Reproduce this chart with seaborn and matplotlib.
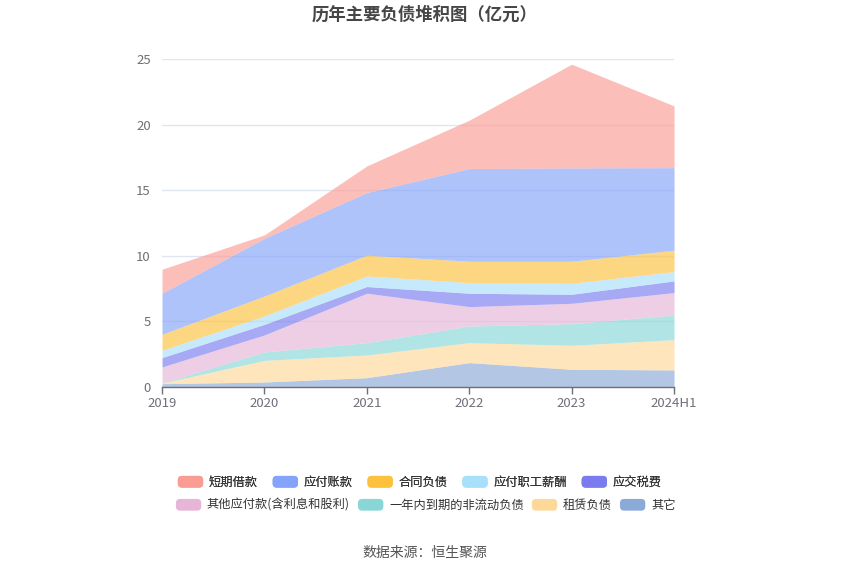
import numpy as np
import matplotlib
matplotlib.use('Agg')
import matplotlib.pyplot as plt
import matplotlib.patches as mpatches
from matplotlib.legend_handler import HandlerPatch
import seaborn as sns

# Data (亿元)
years = ['2019', '2020', '2021', '2022', '2023', '2024H1']
other = [0.25, 0.38, 0.71, 1.86, 1.35, 1.30]
lease = [0.05, 1.65, 1.73, 1.52, 1.83, 2.31]
noncurrent_1y = [0.02, 0.64, 0.94, 1.27, 1.65, 1.88]
other_payables = [1.21, 1.30, 3.77, 1.48, 1.55, 1.71]
taxes = [0.71, 0.81, 0.51, 1.02, 0.69, 0.89]
payroll = [0.56, 0.64, 0.81, 0.81, 0.84, 0.71]
contract = [1.22, 1.52, 1.58, 1.63, 1.68, 1.63]
payables = [3.13, 4.40, 4.78, 7.07, 7.12, 6.30]
short_loans = [1.83, 0.26, 2.03, 3.69, 7.91, 4.71]

# stacking order bottom -> top
series = [other, lease, noncurrent_1y, other_payables, taxes, payroll, contract, payables, short_loans]
names = ['其它', '租赁负债', '一年内到期的非流动负债', '其他应付款(含利息和股利)', '应交税费',
         '应付职工薪酬', '合同负债', '应付账款', '短期借款']
colors = ['#8aaad8', '#fed898', '#88d6d6', '#e6b5d8', '#7a7bef',
          '#a8dffa', '#fdc13e', '#84a3fa', '#fa9b94']

sns.set_theme(style='white')
plt.rcParams['font.family'] = ['Noto Sans CJK SC', 'DejaVu Sans']
plt.rcParams['axes.unicode_minus'] = False

fig = plt.figure(figsize=(8.5, 5.75), dpi=100)
ax = fig.add_axes([0.1906, 0.327, 0.6024, 0.570])

x = np.arange(len(years))
ax.stackplot(x, *series, colors=colors, alpha=0.65, linewidth=0)

ax.set_xlim(0, len(years) - 1)
ax.set_ylim(0, 25)
ax.set_yticks([0, 5, 10, 15, 20, 25])
ax.set_xticks(x)
ax.set_xticklabels(years)
ax.yaxis.grid(True, color='#e0e6f1', linewidth=1)
ax.set_axisbelow(True)
for s in ['top', 'right', 'left']:
    ax.spines[s].set_visible(False)
ax.spines['bottom'].set_color('#6e7079')
ax.spines['bottom'].set_linewidth(1)
ax.tick_params(axis='x', colors='#6e7079', labelsize=9.5, length=5, width=1, direction='out', pad=2,
               bottom=True)
ax.tick_params(axis='y', colors='#6e7079', labelsize=9.5, length=0, pad=8)

fig.text(0.5, 0.975, '历年主要负债堆积图（亿元）', ha='center', va='center',
         fontsize=12.5, fontweight='bold', color='#464646')
fig.text(0.5, 0.038, '数据来源：恒生聚源', ha='center', va='center', fontsize=10, color='#555555')


class RoundHandler(HandlerPatch):
    def create_artists(self, legend, orig_handle, xdescent, ydescent, width, height, fontsize, trans):
        p = mpatches.FancyBboxPatch((-xdescent + 1, -ydescent), width - 2, height,
                                    boxstyle='round,pad=0,rounding_size=3',
                                    facecolor=orig_handle.get_facecolor(), edgecolor='none',
                                    transform=trans)
        return [p]


legend_kw = dict(frameon=False, fontsize=8.8, handlelength=2.3, handleheight=1.1,
                 handletextpad=0.35, labelcolor='#333333',
                 handler_map={mpatches.Patch: RoundHandler()})

row1 = [8, 7, 6, 5, 4]
row2 = [3, 2, 1, 0]
h1 = [mpatches.Patch(facecolor=colors[i], label=names[i]) for i in row1]
h2 = [mpatches.Patch(facecolor=colors[i], label=names[i]) for i in row2]
leg1 = fig.legend(handles=h1, loc='center', bbox_to_anchor=(0.493, 0.161), ncol=5,
                  columnspacing=1.1, **legend_kw)
fig.add_artist(leg1)
fig.legend(handles=h2, loc='center', bbox_to_anchor=(0.5, 0.121), ncol=4,
           columnspacing=0.55, **legend_kw)

fig.savefig('out.png', dpi=100)
